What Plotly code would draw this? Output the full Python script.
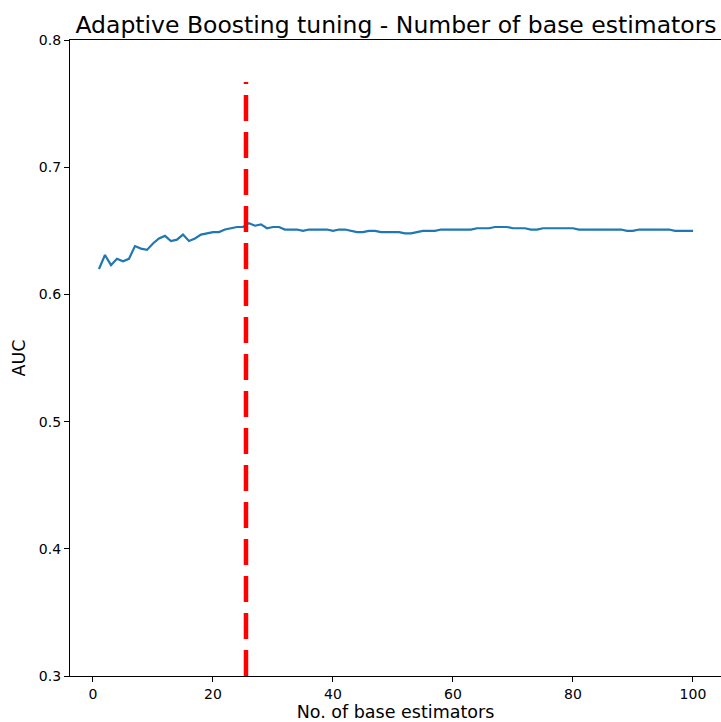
import plotly.graph_objects as go

n_estimators = list(range(1, 101))
auc = [
    0.620, 0.631, 0.623, 0.628, 0.626, 0.628, 0.638, 0.636, 0.635, 0.640,
    0.644, 0.646, 0.642, 0.643, 0.647, 0.642, 0.644, 0.647, 0.648, 0.649,
    0.649, 0.651, 0.652, 0.653, 0.653, 0.656, 0.654, 0.655, 0.652, 0.653,
    0.653, 0.651, 0.651, 0.651, 0.650, 0.651, 0.651, 0.651, 0.651, 0.650,
    0.651, 0.651, 0.650, 0.649, 0.649, 0.650, 0.650, 0.649, 0.649, 0.649,
    0.649, 0.648, 0.648, 0.649, 0.650, 0.650, 0.650, 0.651, 0.651, 0.651,
    0.651, 0.651, 0.651, 0.652, 0.652, 0.652, 0.653, 0.653, 0.653, 0.652,
    0.652, 0.652, 0.651, 0.651, 0.652, 0.652, 0.652, 0.652, 0.652, 0.652,
    0.651, 0.651, 0.651, 0.651, 0.651, 0.651, 0.651, 0.651, 0.650, 0.650,
    0.651, 0.651, 0.651, 0.651, 0.651, 0.651, 0.650, 0.650, 0.650, 0.650,
]
best_n = 25.5
vline_y = [0.3, 0.767]

x_ticks = [0, 20, 40, 60, 80, 100]
y_ticks = [0.3, 0.4, 0.5, 0.6, 0.7, 0.8]

FONT = "DejaVu Sans"

fig = go.Figure()
fig.add_trace(go.Scatter(
    x=n_estimators, y=auc, mode="lines",
    line=dict(color="#1f77b4", width=2.2), showlegend=False,
))
fig.add_trace(go.Scatter(
    x=[best_n, best_n], y=vline_y, mode="lines",
    line=dict(color="#ff0000", width=4.5, dash="26px,11px"), showlegend=False,
))

fig.update_layout(
    width=721, height=722,
    margin=dict(l=70, r=0, t=40, b=46),
    paper_bgcolor="white", plot_bgcolor="white",
    font=dict(family=FONT, color="black", size=14),
    title=dict(
        text="Adaptive Boosting tuning - Number of base estimators",
        x=396 / 721, xanchor="center", y=1 - 25 / 722, yanchor="middle",
        font=dict(family=FONT, size=23.5, color="black"),
    ),
)
fig.update_xaxes(
    range=[-3.83, 104.67], tickvals=x_ticks, ticktext=[str(v) for v in x_ticks],
    showgrid=False, zeroline=False, showline=True, linecolor="black", linewidth=1.2,
    mirror=True, ticks="outside", ticklen=5, tickwidth=1.2, tickcolor="black",
    tickfont=dict(family=FONT, size=14, color="black"),
    title=dict(text="No. of base estimators", font=dict(family=FONT, size=17.5, color="black"), standoff=6),
)
fig.update_yaxes(
    range=[0.3, 0.8], tickvals=y_ticks, ticktext=[f"{v:.1f}" for v in y_ticks],
    showgrid=False, zeroline=False, showline=True, linecolor="black", linewidth=1.2,
    mirror=False, ticks="outside", ticklen=5, tickwidth=1.2, tickcolor="black",
    tickfont=dict(family=FONT, size=14, color="black"),
    title=dict(text="AUC", font=dict(family=FONT, size=17.5, color="black"), standoff=8),
)

fig.write_html("out.html")
